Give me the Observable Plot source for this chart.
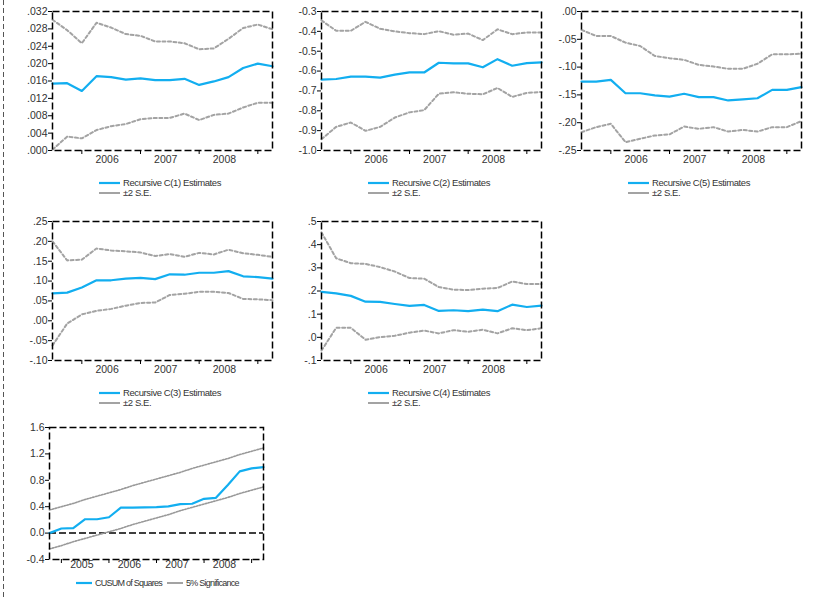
<!DOCTYPE html>
<html><head><meta charset="utf-8">
<script src="https://cdn.jsdelivr.net/npm/d3@7"></script>
<script src="https://cdn.jsdelivr.net/npm/@observablehq/plot@0.6"></script>
<style>
body{margin:0;background:#fff;}
#chart{position:relative;width:813px;height:600px;overflow:hidden;background:#fff;font-family:"Liberation Sans",Arial,sans-serif;}
.panel{position:absolute;}
.legend{position:absolute;font-size:9.5px;color:#333;letter-spacing:-0.4px;line-height:10px;white-space:nowrap;}
.legend .row{height:10px;display:flex;align-items:center;}
.legend svg{display:block;margin-right:3px;}
</style>
</head><body>
<div id="chart"></div>
<script>
// ---------- data ----------
const topQuarters = ["2005Q3","2005Q4","2006Q1","2006Q2","2006Q3","2006Q4","2007Q1","2007Q2",
  "2007Q3","2007Q4","2008Q1","2008Q2","2008Q3","2008Q4","2009Q1","2009Q2"];
const cusumQuarters = ["2004Q4","2005Q1","2005Q2","2005Q3","2005Q4","2006Q1","2006Q2","2006Q3","2006Q4",
  "2007Q1","2007Q2","2007Q3","2007Q4","2008Q1","2008Q2","2008Q3","2008Q4","2009Q1","2009Q2"];

const c1Est = [.0154,.0155,.0137,.0171,.0169,.0163,.0166,.0162,.0162,.0165,.0151,.0159,.0169,.0190,.0200,.0194];
const c1Up  = [.0301,.0277,.0247,.0294,.0283,.0268,.0264,.0251,.0251,.0247,.0233,.0235,.0257,.0282,.0290,.0279];
const c1Lo  = [.0002,.0032,.0028,.0047,.0056,.0061,.0072,.0075,.0075,.0085,.0070,.0082,.0085,.0099,.0110,.0110];

const c2Est = [-.643,-.640,-.628,-.628,-.633,-.618,-.607,-.607,-.558,-.561,-.561,-.581,-.540,-.573,-.560,-.556];
const c2Up  = [-.345,-.397,-.397,-.352,-.387,-.400,-.409,-.414,-.399,-.417,-.411,-.444,-.390,-.414,-.406,-.406];
const c2Lo  = [-.943,-.881,-.859,-.901,-.881,-.834,-.808,-.797,-.714,-.707,-.714,-.717,-.685,-.730,-.710,-.705];

const c5Est = [-.126,-.126,-.123,-.147,-.147,-.151,-.153,-.148,-.154,-.154,-.160,-.158,-.156,-.141,-.141,-.136];
const c5Up  = [-.033,-.044,-.044,-.056,-.062,-.080,-.084,-.087,-.096,-.099,-.103,-.103,-.094,-.077,-.077,-.076];
const c5Lo  = [-.217,-.208,-.202,-.235,-.229,-.223,-.221,-.207,-.211,-.208,-.216,-.213,-.216,-.208,-.208,-.197];

const c3Est = [.069,.071,.084,.102,.102,.106,.108,.105,.117,.116,.121,.121,.125,.112,.110,.106];
const c3Up  = [.200,.152,.154,.182,.177,.175,.172,.163,.168,.161,.171,.167,.179,.170,.166,.161];
const c3Lo  = [-.062,-.007,.016,.025,.030,.038,.045,.046,.065,.068,.073,.073,.070,.055,.054,.052];

const c4Est = [.196,.190,.179,.154,.153,.144,.136,.140,.114,.117,.113,.120,.113,.141,.131,.137];
const c4Up  = [.453,.341,.320,.317,.303,.284,.256,.253,.217,.206,.204,.210,.213,.241,.230,.230];
const c4Lo  = [-.057,.041,.041,-.010,.001,.007,.020,.029,.017,.031,.024,.033,.017,.039,.031,.039];

const cusumSq = [0.0,0.07,0.075,0.21,0.21,0.24,0.385,0.385,0.39,0.395,0.405,0.44,0.445,0.52,0.535,0.73,0.935,0.98,1.0];
const sigUp = [0.35,0.40,0.45,0.51,0.56,0.61,0.66,0.72,0.77,0.82,0.87,0.92,0.98,1.03,1.08,1.13,1.19,1.24,1.29];
const sigLo = [-0.24,-0.19,-0.13,-0.08,-0.03,0.02,0.07,0.13,0.18,0.23,0.28,0.34,0.39,0.44,0.49,0.54,0.60,0.65,0.70];

const c1Ticks = [0,.004,.008,.012,.016,.020,.024,.028,.032];
const c1TickLabels = [".000",".004",".008",".012",".016",".020",".024",".028",".032"];
const c2Ticks = [-1.0,-0.9,-0.8,-0.7,-0.6,-0.5,-0.4,-0.3];
const c2TickLabels = ["-1.0","-0.9","-0.8","-0.7","-0.6","-0.5","-0.4","-0.3"];
const c5Ticks = [-.25,-.20,-.15,-.10,-.05,0];
const c5TickLabels = ["-.25","-.20","-.15","-.10","-.05",".00"];
const c3Ticks = [-.10,-.05,0,.05,.10,.15,.20,.25];
const c3TickLabels = ["-.10","-.05",".00",".05",".10",".15",".20",".25"];
const c4Ticks = [-.1,0,.1,.2,.3,.4,.5];
const c4TickLabels = ["-.1",".0",".1",".2",".3",".4",".5"];
const cusumTicks = [-0.4,0,0.4,0.8,1.2,1.6];
const cusumTickLabels = ["-0.4","0.0","0.4","0.8","1.2","1.6"];

const topYears = [2006,2007,2008,2009];
const topYearLabels = ["2006","2007","2008"];
const cusumYears = [2005,2006,2007,2008,2009];
const cusumYearLabels = ["2005","2006","2007","2008"];

// ---------- helpers ----------
const BLUE = "#12aef0", GRAY = "#a3a3a3", TXT = "#333";
const qNum = q => +q.slice(0,4) + (+q.slice(5) - 1) / 4;
const chart = document.getElementById("chart");

function panel(o) {
  const xs = o.quarters.map(qNum);
  const rows = s => s.map((y, i) => ({x: xs[i], y}));
  const yMap = new Map(o.yTicks.map((t, i) => [t, o.yLabels[i]]));
  const labelPos = o.yearLabels.map(l => +l + 0.43);
  const xMap = new Map(labelPos.map((p, i) => [p, o.yearLabels[i]]));
  const lineMarks = [];
  o.bands.forEach(b => lineMarks.push(Plot.line(rows(b), {x:"x", y:"y", stroke:o.bandColor || GRAY,
    strokeWidth:o.bandWidth, strokeDasharray:o.bandDash})));
  lineMarks.push(Plot.line(rows(o.est), {x:"x", y:"y", stroke:BLUE, strokeWidth:2.2}));
  const ML = 52, MR = 8, MT = 11, MB = 22;
  const p = Plot.plot({
    width: ML + o.fw + MR, height: MT + o.fh + MB,
    marginLeft: ML, marginRight: MR, marginTop: MT, marginBottom: MB,
    x: {domain: [xs[0], xs[xs.length-1]], label: null},
    y: {domain: o.yDomain, label: null},
    style: {fontFamily: '"Liberation Sans",Arial,sans-serif', fontSize: "10.5px", color: TXT, background: "transparent", overflow: "visible"},
    marks: [
      Plot.axisY({ticks: o.yTicks, tickFormat: d => yMap.get(d), tickSize: 4, tickPadding: 1, label: null, stroke: "#000"}),
      Plot.axisX({ticks: o.years, tickSize: 4, tickFormat: () => "", label: null, stroke: "#000"}),
      Plot.axisX({ticks: labelPos, tickSize: 0, tickPadding: o.labelPad, tickFormat: d => xMap.get(d), label: null}),
      ...(o.zero ? [Plot.ruleY([0], {stroke:"#000", strokeWidth:1.5, strokeDasharray:"7,3"})] : []),
      ...lineMarks,
      Plot.frame({stroke: "#000", strokeWidth: 1.5, strokeDasharray: "7,3"})
    ]
  });
  p.classList.add("panel");
  p.style.left = (o.frameLeft - ML) + "px";
  p.style.top = (o.frameTop - MT) + "px";
  chart.appendChild(p);
}

function swatch(color, w, width, dash) {
  return `<svg width="${w}" height="10"><line x1="0" x2="${w}" y1="5" y2="5" stroke="${color}" stroke-width="${width}"${dash ? ` stroke-dasharray="${dash}"` : ""}/></svg>`;
}

function legend2(left, top, name) {
  const d = document.createElement("div");
  d.className = "legend";
  d.style.left = left + "px"; d.style.top = top + "px";
  d.innerHTML = `<div class="row">${swatch(BLUE,21,2.2)}<span>${name}</span></div>` +
                `<div class="row">${swatch(GRAY,21,2)}<span>±2 S.E.</span></div>`;
  chart.appendChild(d);
}

const topCfg = {quarters: topQuarters, fw: 220, fh: 139, years: topYears, yearLabels: topYearLabels,
  labelPad: 5, bandWidth: 2, bandDash: "3,2.5"};

const panels = [
  {frameLeft:52, frameTop:11, est:c1Est, bands:[c1Up,c1Lo], yDomain:[0,.032], yTicks:c1Ticks, yLabels:c1TickLabels, name:"Recursive C(1) Estimates"},
  {frameLeft:321, frameTop:11, est:c2Est, bands:[c2Up,c2Lo], yDomain:[-1.0,-0.3], yTicks:c2Ticks, yLabels:c2TickLabels, name:"Recursive C(2) Estimates"},
  {frameLeft:581, frameTop:11, est:c5Est, bands:[c5Up,c5Lo], yDomain:[-.25,0], yTicks:c5Ticks, yLabels:c5TickLabels, name:"Recursive C(5) Estimates"},
  {frameLeft:52, frameTop:221, est:c3Est, bands:[c3Up,c3Lo], yDomain:[-.10,.25], yTicks:c3Ticks, yLabels:c3TickLabels, name:"Recursive C(3) Estimates"},
  {frameLeft:321, frameTop:221, est:c4Est, bands:[c4Up,c4Lo], yDomain:[-.1,.5], yTicks:c4Ticks, yLabels:c4TickLabels, name:"Recursive C(4) Estimates"}
];
panels.forEach(pc => {
  panel({...topCfg, ...pc});
  legend2(pc.frameLeft + 47, pc.frameTop + 139 + 28, pc.name);
});

panel({frameLeft:49, frameTop:427, fw:214, fh:132, quarters:cusumQuarters, est:cusumSq, bands:[sigUp,sigLo],
  yDomain:[-0.4,1.6], yTicks:cusumTicks, yLabels:cusumTickLabels, years:cusumYears, yearLabels:cusumYearLabels,
  labelPad:1, bandWidth:1.6, bandDash:"1.5,1.5", bandColor:"#999", zero:true});

const lg = document.createElement("div");
lg.className = "legend";
lg.style.left = "76px"; lg.style.top = "578px"; lg.style.letterSpacing = "-0.75px"; lg.style.fontSize = "9px";
lg.innerHTML = `<div class="row">${swatch(BLUE,16,2.2)}<span>CUSUM of Squares</span>` +
  `<span style="width:5px"></span>${swatch(GRAY,16,2)}<span>5% Significance</span></div>`;
chart.appendChild(lg);

// outer dashed divider on the left
const ns = "http://www.w3.org/2000/svg";
const div = document.createElementNS(ns, "svg");
div.setAttribute("width", 8); div.setAttribute("height", 600);
div.style.position = "absolute"; div.style.left = "0px"; div.style.top = "0px";
div.innerHTML = `<line x1="3.5" x2="3.5" y1="0" y2="600" stroke="#555" stroke-width="1" stroke-dasharray="5,3"/>`;
chart.appendChild(div);
</script>
</body></html>
